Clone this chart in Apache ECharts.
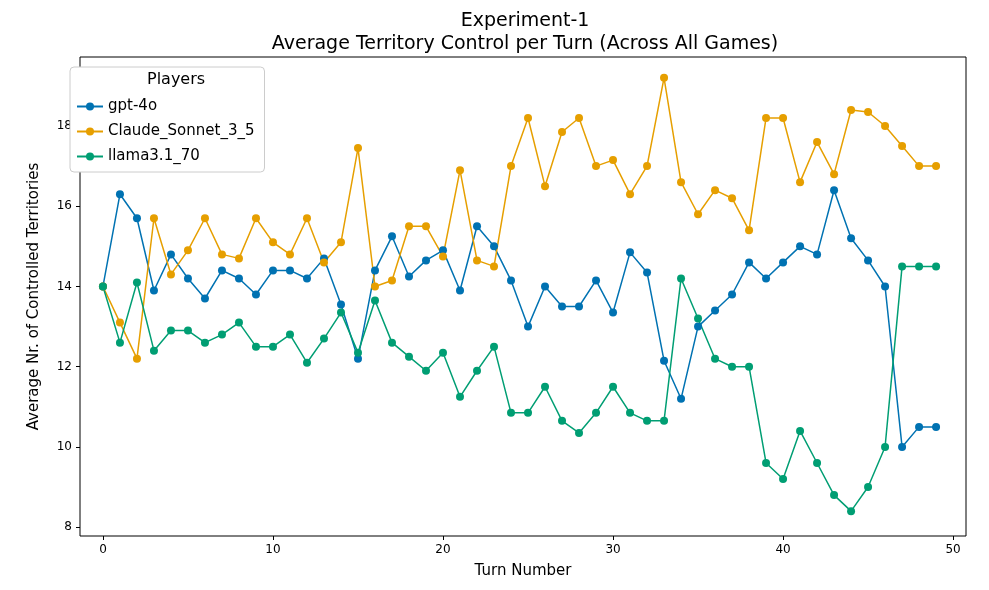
<!DOCTYPE html>
<html>
<head>
<meta charset="utf-8">
<script src="https://cdn.jsdelivr.net/npm/echarts@6/dist/echarts.min.js"></script>
<style>html,body{margin:0;padding:0;background:#fff}#c{width:989px;height:590px}</style>
</head>
<body>
<div id="c"></div>
<script>
const turns = Array.from({length: 50}, (_, i) => i);
const gpt4o = [14.0,16.3,15.7,13.9,14.8,14.2,13.7,14.4,14.2,13.8,14.4,14.4,14.2,14.7,13.55,12.2,14.4,15.25,14.25,14.65,14.9,13.9,15.5,15.0,14.15,13.0,14.0,13.5,13.5,14.15,13.35,14.85,14.35,12.15,11.2,13.0,13.4,13.8,14.6,14.2,14.6,15.0,14.8,16.4,15.2,14.65,14.0,10.0,10.5,10.5];
const claude = [14.0,13.1,12.2,15.7,14.3,14.9,15.7,14.8,14.7,15.7,15.1,14.8,15.7,14.6,15.1,17.45,14.0,14.15,15.5,15.5,14.75,16.9,14.65,14.5,17.0,18.2,16.5,17.85,18.2,17.0,17.15,16.3,17.0,19.2,16.6,15.8,16.4,16.2,15.4,18.2,18.2,16.6,17.6,16.8,18.4,18.35,18.0,17.5,17.0,17.0];
const llama = [14.0,12.6,14.1,12.4,12.9,12.9,12.6,12.8,13.1,12.5,12.5,12.8,12.1,12.7,13.35,12.35,13.65,12.6,12.25,11.9,12.35,11.25,11.9,12.5,10.85,10.85,11.5,10.65,10.35,10.85,11.5,10.85,10.65,10.65,14.2,13.2,12.2,12.0,12.0,9.6,9.2,10.4,9.6,8.8,8.4,9.0,10.0,14.5,14.5,14.5];
const xTicks = [0,10,20,30,40,50];
const yTicks = [8,10,12,14,16,18];
const names = ['gpt-4o','Claude_Sonnet_3_5','llama3.1_70'];
const colors = ['#0072B2','#E69F00','#009E73'];

const chart = echarts.init(document.getElementById('c'));
const mk = (name, data, color) => ({
  name, type: 'line', data: turns.map((t, i) => [t, data[i]]),
  symbol: 'circle', symbolSize: 8, color,
  lineStyle: {width: 1.5, color}, itemStyle: {color}, animation: false
});
chart.setOption({
  title: {
    text: 'Experiment-1\nAverage Territory Control per Turn (Across All Games)',
    left: 520, top: 5, textAlign: 'center',
    textStyle: {fontFamily: 'DejaVu Sans', fontSize: 19, fontWeight: 'normal', color: '#000', lineHeight: 23}
  },
  legend: {
    orient: 'vertical', left: 70, top: 67, itemWidth: 26, itemHeight: 10, itemGap: 10,
    padding: [32, 10, 8, 6], borderColor: '#ccc', borderWidth: 1, borderRadius: 4,
    backgroundColor: '#fff', data: names,
    textStyle: {fontFamily: 'DejaVu Sans', fontSize: 15, color: '#000'}
  },
  graphic: [{type: 'text', left: 147, top: 72, style: {text: 'Players', font: '16px DejaVu Sans', fill: '#000'}, z: 100}],
  grid: {left: 80, right: 23, top: 57, bottom: 54, show: true, borderColor: '#000', borderWidth: 1},
  xAxis: {
    type: 'value', min: -1.35, max: 50.76,
    name: 'Turn Number', nameLocation: 'middle', nameGap: 28,
    nameTextStyle: {fontFamily: 'DejaVu Sans', fontSize: 15, color: '#000'},
    axisLine: {show: false, onZero: false}, splitLine: {show: false},
    axisTick: {show: true, customValues: xTicks, length: 4, lineStyle: {color: '#000'}},
    axisLabel: {customValues: xTicks, fontFamily: 'DejaVu Sans', fontSize: 12, color: '#000'}
  },
  yAxis: {
    type: 'value', min: 7.78, max: 19.72,
    name: 'Average Nr. of Controlled Territories', nameLocation: 'middle', nameGap: 38,
    nameTextStyle: {fontFamily: 'DejaVu Sans', fontSize: 15, color: '#000'},
    axisLine: {show: false, onZero: false}, splitLine: {show: false},
    axisTick: {show: true, customValues: yTicks, length: 4, lineStyle: {color: '#000'}},
    axisLabel: {customValues: yTicks, fontFamily: 'DejaVu Sans', fontSize: 12, color: '#000'}
  },
  series: [mk(names[0], gpt4o, colors[0]), mk(names[1], claude, colors[1]), mk(names[2], llama, colors[2])]
});
</script>
</body>
</html>
